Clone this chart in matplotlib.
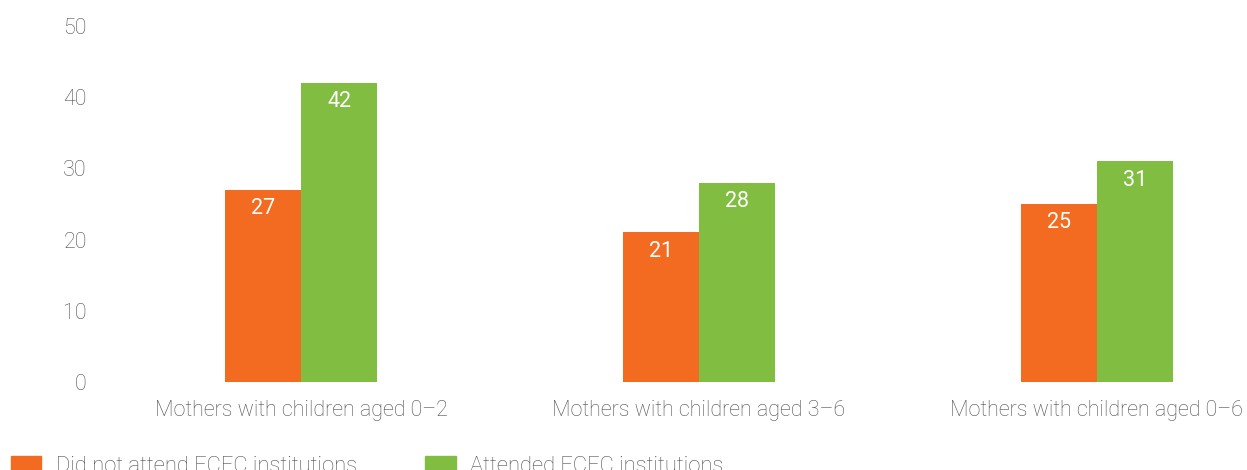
import numpy as np
import matplotlib.pyplot as plt
from matplotlib.patches import Patch

plt.rcParams['font.family'] = ['Roboto', 'DejaVu Sans']
plt.rcParams['font.weight'] = 'light'

groups = ['Mothers with children aged 0–2', 'Mothers with children aged 3–6',
          'Mothers with children aged 0–6']
not_attended = [27, 21, 25]
attended = [42, 28, 31]
series_names = ['Did not attend ECEC institutions', 'Attended ECEC institutions']

orange = '#f26b21'
green = '#80bd41'
grey = '#4f4f4f'
fs = 15.5

fig = plt.figure(figsize=(12.47, 4.70), dpi=100)
ax = fig.add_axes([102/1247, 88/470, 1 - 102/1247, 356/470])

x = np.arange(len(groups))
w = 0.191
b1 = ax.bar(x - w/2, not_attended, w, color=orange)
b2 = ax.bar(x + w/2, attended, w, color=green)

# white value labels just inside the top of each bar
for bars in (b1, b2):
    for r in bars:
        ax.annotate(f'{r.get_height():g}', (r.get_x() + r.get_width()/2, r.get_height()),
                    xytext=(0, -6), textcoords='offset points', ha='center', va='top',
                    color='white', fontsize=fs, fontweight='normal')

ax.set_xlim(-0.5, (1247 - 301) / 398)
ax.set_ylim(0, 50)
ax.set_yticks(range(0, 51, 10))
ax.set_xticks(x)
ax.set_xticklabels(groups)
for s in ax.spines.values():
    s.set_visible(False)
ax.tick_params(length=0, labelsize=fs, labelcolor=grey)
ax.tick_params(axis='x', pad=13)
ax.tick_params(axis='y', pad=11)

handles = [Patch(color=orange), Patch(color=green)]
fig.legend(handles, series_names, loc='upper left', bbox_to_anchor=(-9/1247, 1 - 436/470),
           ncol=2, frameon=False, handlelength=1.4, handleheight=0.75,
           handletextpad=0.65, columnspacing=3.12, labelcolor=grey,
           prop={'family': 'Roboto', 'weight': 'light', 'size': 15.8})

fig.savefig('out.png', dpi=100)
